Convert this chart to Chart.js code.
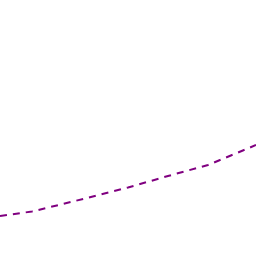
<!DOCTYPE html>
<html>
<head>
<meta charset="utf-8">
<script src="https://cdn.jsdelivr.net/npm/chart.js@4"></script>
<style>
  body { margin: 0; background: #fff; }
</style>
</head>
<body>
<canvas id="myChart" width="256" height="256"></canvas>
<script>
// x positions and values
const xs = [0, 32, 75, 128, 168, 208, 256];
const values = [40, 44.5, 55, 68.5, 80, 91, 111];

const data = xs.map((x, i) => ({ x: x, y: values[i] }));

const ctx = document.getElementById('myChart');
new Chart(ctx, {
    type: 'line',
    data: {
        datasets: [{
            data: data,
            borderColor: '#800080',
            borderWidth: 2,
            borderDash: [7, 6],
            pointRadius: 0,
            fill: false,
            tension: 0
        }]
    },
    options: {
        responsive: false,
        animation: false,
        layout: { padding: 0 },
        plugins: { legend: { display: false }, tooltip: { enabled: false } },
        scales: {
            x: { type: 'linear', min: 0, max: 256, display: false },
            y: { min: 0, max: 256, display: false }
        }
    }
});
</script>
</body>
</html>
